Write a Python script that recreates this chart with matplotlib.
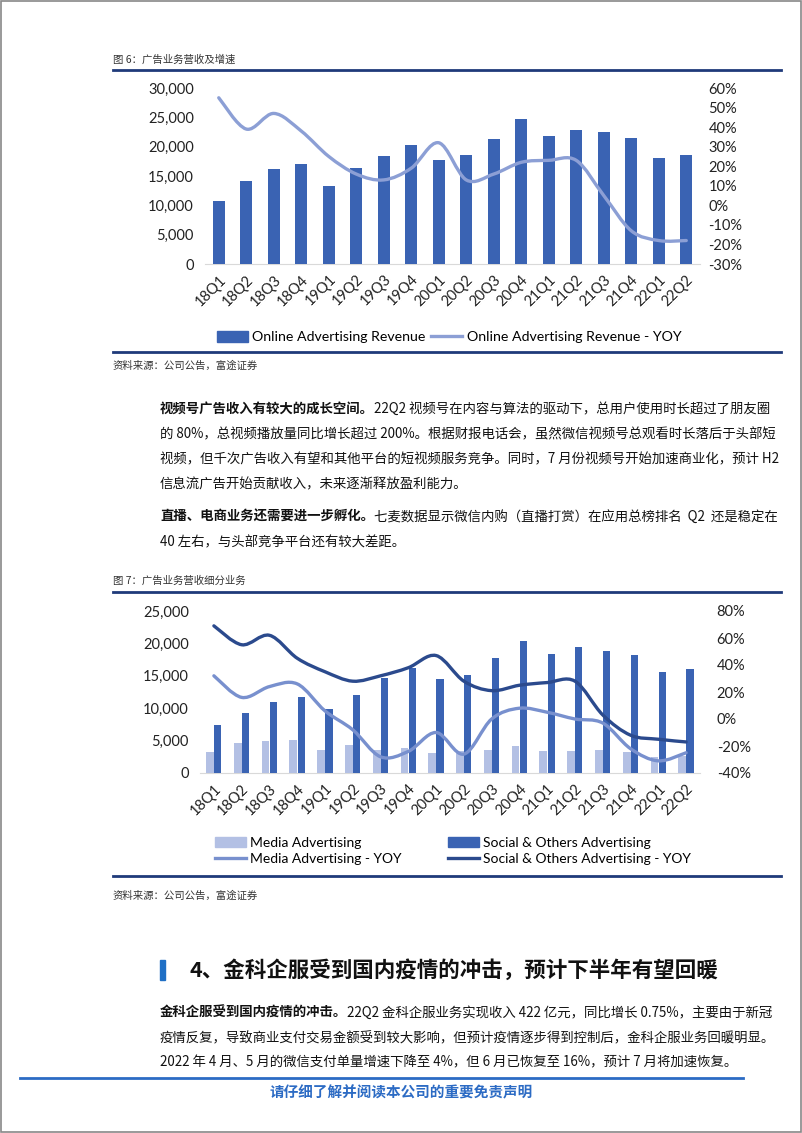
# -*- coding: utf-8 -*-
import numpy as np
import matplotlib
matplotlib.use("Agg")
from matplotlib import pyplot
from matplotlib.path import Path
from matplotlib.patches import PathPatch, Patch, Rectangle
from matplotlib.lines import Line2D
from matplotlib.ticker import FuncFormatter

quarters = ["18Q1", "18Q2", "18Q3", "18Q4", "19Q1", "19Q2", "19Q3", "19Q4", "20Q1",
            "20Q2", "20Q3", "20Q4", "21Q1", "21Q2", "21Q3", "21Q4", "22Q1", "22Q2"]

# 图6 online advertising revenue (RMB mn) and YoY (%)
online_rev = [10689, 14110, 16224, 17033, 13377, 16418, 18366, 20225, 17713,
              18552, 21351, 24655, 21820, 22833, 22495, 21518, 17988, 18638]
online_yoy = [55, 39, 47, 38, 25, 16, 13, 19, 32, 13, 16, 22, 23, 23, 5, -13, -18, -18]

# 图7 split by business
media_rev = [3300, 4700, 5000, 5100, 3500, 4300, 3600, 3900, 3100,
             3400, 3600, 4200, 3400, 3400, 3500, 3300, 2400, 2600]
social_rev = [7400, 9300, 11000, 11700, 9900, 12000, 14700, 16200, 14500,
              15200, 17700, 20300, 18400, 19400, 18900, 18200, 15600, 16000]
media_yoy = [32, 16, 24, 26, 6, -8, -28, -24, -10, -26, 0, 8, 5, 0, -3, -22, -31, -25]
social_yoy = [69, 55, 62, 45, 35, 28, 32, 38, 47, 28, 21, 25, 27, 28, 3, -12, -15, -17]

W, H = 802, 1133
CJK = ["Noto Sans CJK SC", "DejaVu Sans"]
LAT = ["Lato", "Noto Sans CJK SC", "DejaVu Sans"]

BAR = "#3A63B3"
BAR_LIGHT = "#B3C0E4"
LINE_LIGHT = "#8C9FD5"
LINE_MID = "#7890CE"
LINE_DARK = "#2B4A8D"
NAVY = "#1F3A7A"
BODY = 9.65


def fx(x):
    return x / W


def fy(y):
    return 1 - y / H


def smooth_line(ax, xs, ys, color, lw):
    # excel style smoothed line: catmull-rom turned into bezier segments
    pts = np.column_stack([xs, ys]).astype(float)
    n = len(pts)
    verts = [pts[0]]
    codes = [Path.MOVETO]
    for i in range(n - 1):
        p0 = pts[i - 1] if i > 0 else pts[i]
        p1 = pts[i]
        p2 = pts[i + 1]
        p3 = pts[i + 2] if i + 2 < n else pts[i + 1]
        verts += [p1 + (p2 - p0) / 6, p2 - (p3 - p1) / 6, p2]
        codes += [Path.CURVE4] * 3
    ax.add_patch(PathPatch(Path(verts, codes), fill=False, ec=color, lw=lw,
                           capstyle="round", joinstyle="round", zorder=5))


def style_axes(ax, ax2):
    for a in (ax, ax2):
        for s in a.spines.values():
            s.set_visible(False)
        a.tick_params(length=0, labelsize=10.5, colors="#222222")
    ax.spines["bottom"].set_visible(True)
    ax.spines["bottom"].set_color("#D9D9D9")
    ax.set_xticks(range(len(quarters)))
    ax.set_xticklabels(quarters, rotation=45, ha="right", rotation_mode="anchor",
                       fontsize=10.5, family=LAT)
    ax.tick_params(axis="x", pad=6)
    ax.set_xlim(-0.5, len(quarters) - 0.5)
    for lab in ax.get_yticklabels() + ax2.get_yticklabels():
        lab.set_family(LAT)


def text_line(fig, x, y, parts, size=BODY):
    renderer = fig.canvas.get_renderer()
    cur = x
    for s, bold in parts:
        t = fig.text(fx(cur), fy(y), s, fontsize=size, family=CJK, color="#111111",
                     fontweight="bold" if bold else "normal", va="center", ha="left")
        bb = t.get_window_extent(renderer)
        cur += bb.width


def main():
    fig = pyplot.figure(figsize=(W / 100, H / 100), dpi=100)

    # page border
    fig.add_artist(Rectangle((0.001, 0.001), 0.998, 0.998, transform=fig.transFigure,
                             fill=False, ec="#888888", lw=1.2))

    # ---------- 图6 ----------
    fig.text(fx(113), fy(60), "图 6：广告业务营收及增速", fontsize=7.5, family=CJK,
             color="#333333", va="center")
    fig.add_artist(Line2D([fx(113), fx(781)], [fy(70), fy(70)], color=NAVY, lw=2))

    ax = fig.add_axes([fx(205), fy(264), (700 - 205) / W, (264 - 88) / H])
    ax2 = ax.twinx()
    x = np.arange(len(quarters))
    ax.bar(x, online_rev, width=0.42, color=BAR, zorder=3)
    ax.set_ylim(0, 30000)
    ax.set_yticks(range(0, 30001, 5000))
    ax.yaxis.set_major_formatter(FuncFormatter(lambda v, p: f"{int(v):,}"))
    ax2.set_ylim(-30, 60)
    ax2.set_yticks(range(-30, 61, 10))
    ax2.yaxis.set_major_formatter(FuncFormatter(lambda v, p: f"{int(v)}%"))
    smooth_line(ax2, x, online_yoy, LINE_LIGHT, 2.4)
    style_axes(ax, ax2)
    ax.tick_params(axis="y", pad=8)
    ax2.tick_params(axis="y", pad=6)

    fig.legend([Patch(color=BAR), Line2D([], [], color=LINE_LIGHT, lw=2.4)],
               ["Online Advertising Revenue", "Online Advertising Revenue - YOY"],
               loc="center", bbox_to_anchor=(fx(449), fy(337)), ncol=2, frameon=False,
               prop={"family": LAT, "size": 10.2}, handlelength=2.2, handleheight=0.8,
               handletextpad=0.3, columnspacing=0.4)

    fig.add_artist(Line2D([fx(113), fx(781)], [fy(352), fy(352)], color=NAVY, lw=2))
    fig.text(fx(113), fy(366), "资料来源：公司公告，富途证券", fontsize=7.5, family=CJK,
             color="#333333", va="center")

    # ---------- body text ----------
    text_line(fig, 160, 409, [("视频号广告收入有较大的成长空间。", True),
                              ("22Q2 视频号在内容与算法的驱动下，总用户使用时长超过了朋友圈", False)])
    text_line(fig, 160, 434, [("的 80%，总视频播放量同比增长超过 200%。根据财报电话会，虽然微信视频号总观看时长落后于头部短", False)])
    text_line(fig, 160, 459, [("视频，但千次广告收入有望和其他平台的短视频服务竞争。同时，7 月份视频号开始加速商业化，预计 H2", False)])
    text_line(fig, 160, 484, [("信息流广告开始贡献收入，未来逐渐释放盈利能力。", False)])
    text_line(fig, 160, 517, [("直播、电商业务还需要进一步孵化。", True),
                              ("七麦数据显示微信内购（直播打赏）在应用总榜排名  Q2  还是稳定在", False)])
    text_line(fig, 160, 542, [("40 左右，与头部竞争平台还有较大差距。", False)])

    # ---------- 图7 ----------
    fig.text(fx(113), fy(581), "图 7：广告业务营收细分业务", fontsize=7.5, family=CJK,
             color="#333333", va="center")
    fig.add_artist(Line2D([fx(113), fx(781)], [fy(592), fy(592)], color=NAVY, lw=2))

    bx = fig.add_axes([fx(200), fy(773), (700 - 200) / W, (773 - 611) / H])
    bx2 = bx.twinx()
    bx.bar(x - 0.14, media_rev, width=0.28, color=BAR_LIGHT, zorder=3)
    bx.bar(x + 0.14, social_rev, width=0.26, color=BAR, zorder=3)
    bx.set_ylim(0, 25000)
    bx.set_yticks(range(0, 25001, 5000))
    bx.yaxis.set_major_formatter(FuncFormatter(lambda v, p: f"{int(v):,}"))
    bx2.set_ylim(-40, 80)
    bx2.set_yticks(range(-40, 81, 20))
    bx2.yaxis.set_major_formatter(FuncFormatter(lambda v, p: f"{int(v)}%"))
    smooth_line(bx2, x, media_yoy, LINE_MID, 2.4)
    smooth_line(bx2, x, social_yoy, LINE_DARK, 2.4)
    style_axes(bx, bx2)
    bx.tick_params(axis="y", pad=8)
    bx2.tick_params(axis="y", pad=12)

    fig.legend([Patch(color=BAR_LIGHT), Line2D([], [], color=LINE_MID, lw=2.4),
                Patch(color=BAR), Line2D([], [], color=LINE_DARK, lw=2.4)],
               ["Media Advertising", "Media Advertising - YOY",
                "Social & Others Advertising", "Social & Others Advertising - YOY"],
               loc="center", bbox_to_anchor=(fx(453), fy(851)), ncol=2, frameon=False,
               prop={"family": LAT, "size": 10.0}, handlelength=2.2, handleheight=0.7,
               handletextpad=0.3, columnspacing=3.4, labelspacing=0.3)

    fig.add_artist(Line2D([fx(113), fx(781)], [fy(876), fy(876)], color=NAVY, lw=2))
    fig.text(fx(113), fy(896), "资料来源：公司公告，富途证券", fontsize=7.5, family=CJK,
             color="#333333", va="center")

    # ---------- section 4 ----------
    fig.add_artist(Rectangle((fx(160), fy(980)), 5 / W, 20 / H, transform=fig.transFigure,
                             color="#1F6FC5"))
    fig.text(fx(189), fy(970), "4、金科企服受到国内疫情的冲击，预计下半年有望回暖", fontsize=15.5,
             family=CJK, fontweight="bold", color="#111111", va="center")

    text_line(fig, 160, 1013, [("金科企服受到国内疫情的冲击。", True),
                               ("22Q2 金科企服业务实现收入 422 亿元，同比增长 0.75%，主要由于新冠", False)])
    text_line(fig, 160, 1038, [("疫情反复，导致商业支付交易金额受到较大影响，但预计疫情逐步得到控制后，金科企服业务回暖明显。", False)])
    text_line(fig, 160, 1062, [("2022 年 4 月、5 月的微信支付单量增速下降至 4%，但 6 月已恢复至 16%，预计 7 月将加速恢复。", False)])

    # footer
    fig.add_artist(Line2D([fx(20), fx(743)], [fy(1078), fy(1078)], color="#2C6BC4", lw=2))
    fig.text(fx(401), fy(1092), "请仔细了解并阅读本公司的重要免责声明", fontsize=10.5, family=CJK,
             fontweight="bold", fontstyle="italic", color="#2C6BC4", va="center", ha="center")

    fig.savefig("out.png", dpi=100)


if __name__ == '__main__':
    main()
